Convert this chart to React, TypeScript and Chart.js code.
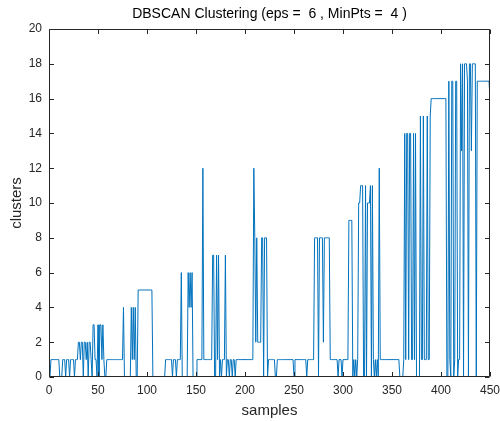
import React, { useEffect, useRef } from "react";
import { Chart, registerables } from "chart.js";

Chart.register(...registerables);

// Cluster label per sample, stored as [value, runLength] pairs
const clusterRuns: [number, number][] = [
  [0, 1], [1, 9], [0, 3], [1, 3], [0, 1], [1, 3], [0, 1], [1, 4], [0, 1], [1, 3],
  [2, 2], [1, 1], [2, 2], [0, 1], [2, 2], [1, 1], [2, 1], [0, 1], [2, 2], [1, 1], [0, 1],
  [3, 2], [1, 2], [0, 1], [3, 1], [0, 1], [3, 2], [1, 1], [3, 1], [1, 1], [0, 2],
  [1, 17], [4, 1], [0, 7], [4, 1], [1, 1], [4, 1], [1, 1], [4, 1], [0, 2],
  [5, 15], [0, 13], [1, 7], [0, 1], [1, 3], [0, 1], [1, 4], [6, 1], [0, 6],
  [6, 1], [4, 1], [6, 1], [4, 1], [6, 1], [0, 4], [1, 6], [12, 1], [1, 9],
  [7, 2], [0, 2], [7, 1], [1, 1], [7, 1], [0, 1], [1, 1], [0, 1], [1, 3], [7, 1],
  [0, 1], [1, 2], [0, 1], [1, 2], [0, 1], [1, 2], [0, 1], [1, 18], [12, 1],
  [8, 1], [2, 1], [8, 1], [2, 4], [8, 2], [0, 1], [8, 3], [0, 1], [1, 7], [0, 2],
  [1, 17], [0, 1], [1, 12], [0, 1], [1, 7], [8, 4], [0, 1], [8, 4], [2, 1], [8, 6],
  [1, 8], [0, 1], [1, 3], [0, 1], [1, 6], [9, 4], [0, 1], [1, 1], [0, 1], [1, 1],
  [0, 1], [1, 1], [10, 2], [11, 3], [0, 2], [11, 1], [0, 1], [10, 3], [11, 1], [0, 1],
  [11, 1], [1, 1], [0, 1], [1, 1], [0, 1], [1, 1], [0, 1], [12, 1], [1, 20], [0, 4],
  [1, 1], [14, 1], [1, 1], [14, 2], [1, 1], [14, 2], [1, 2], [14, 1], [1, 1], [14, 1],
  [0, 4], [15, 1], [1, 2], [15, 1], [1, 3], [15, 1], [1, 2], [15, 1], [16, 16], [0, 2],
  [17, 1], [1, 1], [0, 1], [17, 2], [0, 1], [1, 1], [17, 2], [0, 1], [1, 2],
  [18, 1], [13, 1], [18, 1], [0, 1], [18, 3], [17, 1], [0, 1], [18, 2], [13, 1], [18, 4],
  [0, 1], [17, 13], [16, 1],
];

const xTickValues = [0, 50, 100, 150, 200, 250, 300, 350, 400, 450];
const yTickValues = [0, 2, 4, 6, 8, 10, 12, 14, 16, 18, 20];

const clusters: number[] = [];
clusterRuns.forEach(([v, n]) => {
  for (let k = 0; k < n; k++) clusters.push(v);
});

const FONT = "'Liberation Sans', Arial, Helvetica, sans-serif";
const AXIS_COLOR = "#262626";

const boxPlugin = {
  id: "matlabBox",
  afterLayout(chart: any) {
    // centre the title over the axes box, as MATLAB does
    const tb = chart.titleBlock;
    if (tb) {
      tb.left = chart.chartArea.left;
      tb.right = chart.chartArea.right;
      tb.width = tb.right - tb.left;
    }
  },
  afterDraw(chart: any) {
    const { ctx, chartArea } = chart;
    const l = Math.round(chartArea.left) + 0.5;
    const r = Math.round(chartArea.right) - 0.5;
    const t = Math.round(chartArea.top) + 0.5;
    const b = Math.round(chartArea.bottom) - 0.5;
    const tl = 4.5;
    ctx.save();
    ctx.strokeStyle = AXIS_COLOR;
    ctx.lineWidth = 1;
    ctx.beginPath();
    ctx.rect(l, t, r - l, b - t);
    const xs = chart.scales.x;
    const ys = chart.scales.y;
    xTickValues.forEach((v) => {
      const px = Math.round(xs.getPixelForValue(v)) + 0.5;
      ctx.moveTo(px, b);
      ctx.lineTo(px, b - tl);
      ctx.moveTo(px, t);
      ctx.lineTo(px, t + tl);
    });
    yTickValues.forEach((v) => {
      const py = Math.round(ys.getPixelForValue(v)) + 0.5;
      ctx.moveTo(l, py);
      ctx.lineTo(l + tl, py);
      ctx.moveTo(r, py);
      ctx.lineTo(r - tl, py);
    });
    ctx.stroke();
    ctx.restore();
  },
};

export default function App() {
  const canvasRef = useRef<HTMLCanvasElement | null>(null);

  useEffect(() => {
    document.body.style.margin = "0";
    const canvas = canvasRef.current;
    if (!canvas) return;
    const chart = new Chart(canvas, {
      type: "line",
      data: {
        datasets: [
          {
            data: clusters.map((v, i) => ({ x: i + 1, y: v })),
            borderColor: "#0072BD",
            borderWidth: 1,
            pointRadius: 0,
            tension: 0,
            fill: false,
          },
        ],
      },
      options: {
        responsive: false,
        animation: false,
        devicePixelRatio: 1,
        layout: { padding: { left: 0, right: 10, top: 0, bottom: 0 } },
        plugins: {
          legend: { display: false },
          tooltip: { enabled: false },
          title: {
            display: true,
            text: "DBSCAN Clustering (eps =  6 , MinPts =  4 )",
            color: "#000000",
            font: { family: FONT, size: 14, weight: "normal" },
            padding: { top: 6, bottom: 6.2 },
          },
        },
        scales: {
          x: {
            type: "linear",
            min: 0,
            max: 450,
            afterFit: (s: any) => {
              s.height = 44;
              s.paddingLeft = 0;
              s.paddingRight = 0;
            },
            afterBuildTicks: (s: any) => {
              s.ticks = xTickValues.map((v) => ({ value: v }));
            },
            grid: { display: false, drawTicks: false },
            border: { display: false },
            ticks: {
              color: AXIS_COLOR,
              font: { family: FONT, size: 12 },
              padding: 6,
              maxRotation: 0,
              autoSkip: false,
            },
            title: {
              display: true,
              text: "samples",
              color: AXIS_COLOR,
              font: { family: FONT, size: 15 },
              padding: { top: 0, bottom: 1 },
            },
          },
          y: {
            type: "linear",
            min: 0,
            max: 20,
            afterFit: (s: any) => {
              s.width = 49;
              s.paddingTop = 0;
              s.paddingBottom = 0;
            },
            afterBuildTicks: (s: any) => {
              s.ticks = yTickValues.map((v) => ({ value: v }));
            },
            grid: { display: false, drawTicks: false },
            border: { display: false },
            ticks: {
              color: AXIS_COLOR,
              font: { family: FONT, size: 12 },
              padding: 7,
              autoSkip: false,
            },
            title: {
              display: true,
              text: "clusters",
              color: AXIS_COLOR,
              font: { family: FONT, size: 15 },
              padding: { top: 8, bottom: 0 },
            },
          },
        },
      },
      plugins: [boxPlugin],
    });
    return () => chart.destroy();
  }, []);

  return (
    <div style={{ width: 500, height: 421 }}>
      <canvas ref={canvasRef} width={500} height={421} style={{ display: "block" }} />
    </div>
  );
}
